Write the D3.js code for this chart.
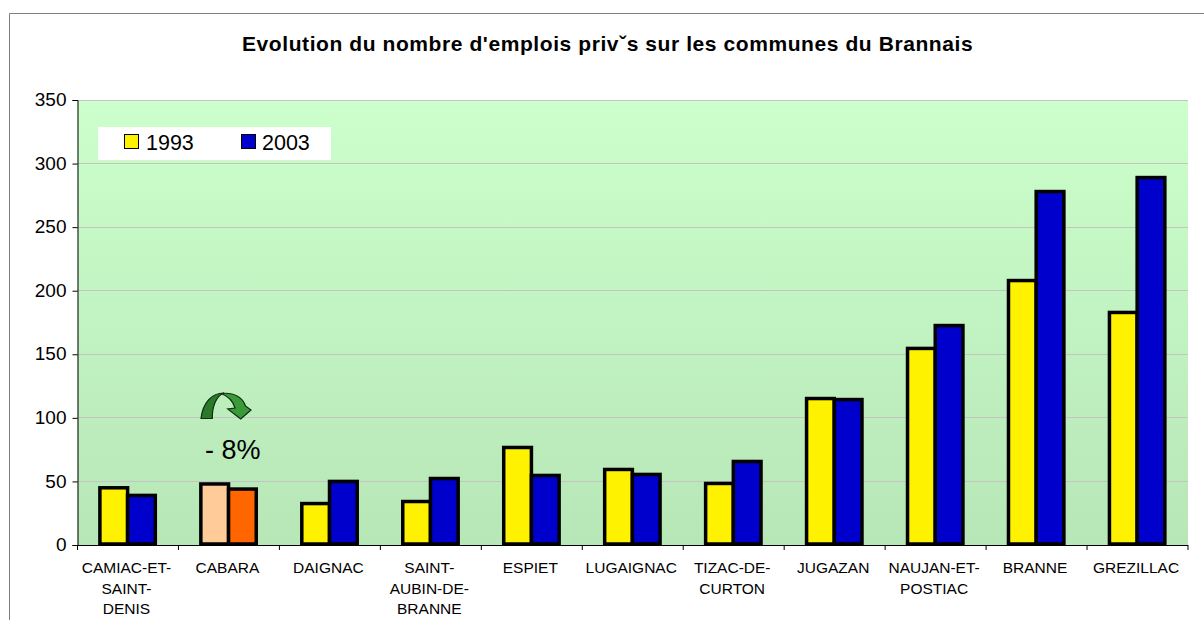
<!DOCTYPE html>
<html><head><meta charset="utf-8">
<script src="https://cdn.jsdelivr.net/npm/d3@7/dist/d3.min.js"></script>
<style>html,body{margin:0;padding:0;background:#fff}svg{display:block}text{font-family:"Liberation Sans",Arial,sans-serif;fill:#000}</style>
</head><body><script>
const categories = ["CAMIAC-ET-|SAINT-|DENIS","CABARA","DAIGNAC","SAINT-|AUBIN-DE-|BRANNE","ESPIET","LUGAIGNAC","TIZAC-DE-|CURTON","JUGAZAN","NAUJAN-ET-|POSTIAC","BRANNE","GREZILLAC"];
const seriesNames = ["1993","2003"];
const values1993 = [45,48,32.6,34.2,76.7,59.4,48.4,115.2,154.6,208,182.9];
const values2003 = [39,44,50,52.3,54.7,55.5,65.7,114.4,172.6,278,289];
const yTicks = [0,50,100,150,200,250,300,350];
const titleText = "Evolution du nombre d'emplois privˇs sur les communes du Brannais";
const noteText = "- 8%";
const highlight = "CABARA";

const W=1204,H=620, L=77.5,R=1188,T=100,B=545;
const svg=d3.select("body").append("svg").attr("width",W).attr("height",H);
const defs=svg.append("defs");
const g=defs.append("linearGradient").attr("id","bg").attr("x1",0).attr("x2",0).attr("y1",0).attr("y2",1);
g.append("stop").attr("offset","0").attr("stop-color","#CCFFCC");
g.append("stop").attr("offset","1").attr("stop-color","#B7E6B7");

// frame
svg.append("path").attr("d",`M9.5,${H}V13.5H${W}`).attr("fill","none").attr("stroke","#808080").attr("stroke-width",1);

svg.append("text").attr("x",242).attr("y",51).attr("font-weight","bold").attr("font-size",21).attr("letter-spacing",0.58).text(titleText);

const x=d3.scaleBand().domain(categories).range([L,R]);
const y=d3.scaleLinear().domain([0,350]).range([B,T]);
const x2=d3.scaleBand().domain(seriesNames).range([22.4,77.8]);

svg.append("rect").attr("x",L).attr("y",T).attr("width",R-L).attr("height",B-T).attr("fill","url(#bg)");
svg.append("g").selectAll("line").data(yTicks.filter(d=>d>0)).join("line")
 .attr("x1",L).attr("x2",R).attr("y1",d=>Math.floor(y(d))+.5).attr("y2",d=>Math.floor(y(d))+.5).attr("stroke","#C4C4C4").attr("stroke-width",1);

// bars
const rows=categories.map((c,i)=>({c,v:[values1993[i],values2003[i]]}));
const colors={normal:["#FFF200","#0000CC"],hi:["#FFCC99","#FF6600"]};
rows.forEach(r=>{
  r.v.forEach((v,j)=>{
    svg.append("rect").attr("x",x(r.c)+x2(seriesNames[j])).attr("y",y(v)).attr("width",x2.bandwidth()).attr("height",y(0)-y(v)-1)
     .attr("fill",(r.c===highlight?colors.hi:colors.normal)[j]).attr("stroke","#000").attr("stroke-width",3.5);
  });
});

// axes
const yA=svg.append("g").attr("transform",`translate(${L},0)`).call(d3.axisLeft(y).tickValues(yTicks).tickSize(5).tickPadding(6));
yA.select(".domain").attr("stroke","#000");
yA.selectAll("line").attr("stroke","#000");
yA.selectAll("text").attr("font-size",19).attr("fill","#000").attr("dy","0.3em").style("font-family",'"Liberation Sans"');

svg.append("line").attr("x1",L).attr("x2",R).attr("y1",B+.5).attr("y2",B+.5).attr("stroke","#000");
const edges=categories.map(c=>x(c)).concat([R]);
svg.append("g").selectAll("line").data(edges).join("line").attr("x1",d=>d).attr("x2",d=>d).attr("y1",B).attr("y2",B+5).attr("stroke","#000");
const lab=svg.append("g").selectAll("text").data(categories).join("text")
 .attr("text-anchor","middle").attr("font-size",15.5).attr("fill","#000");
lab.each(function(c){
  const t=d3.select(this);
  c.split("|").forEach((s,i)=>t.append("tspan").attr("x",x(c)+x.bandwidth()/2-1.5).attr("y",573+i*20.5).text(s));
});

// legend
svg.append("rect").attr("x",98).attr("y",127).attr("width",233).attr("height",33).attr("fill","#fff");
[[124.5,"#FFF200",146],[241.5,"#0000CC",262]].forEach(([lx,col,tx],i)=>{
  svg.append("rect").attr("x",lx).attr("y",134.5).attr("width",14).attr("height",14).attr("fill",col).attr("stroke","#000").attr("stroke-width",1);
  svg.append("text").attr("x",tx).attr("y",150).attr("font-size",21.5).text(seriesNames[i]);
});

// annotation
svg.append("path").attr("d","M201,418.5 C203,402 212,393 224,393 C216,396 212,407 212.3,418.5 Z")
 .attr("fill","#2A7A2A").attr("stroke","#0E2E0E").attr("stroke-width",1.2);
svg.append("path").attr("d","M221,393.5 C235,392 243,398 245.5,406 L251,410 L240.7,419 L227.7,409 L235,408 C233,401 228,396 221,393.5 Z")
 .attr("fill","#3A9A3A").attr("stroke","#0E2E0E").attr("stroke-width",1.2);
svg.append("text").attr("x",205).attr("y",459).attr("font-size",27).text(noteText);
</script></body></html>
